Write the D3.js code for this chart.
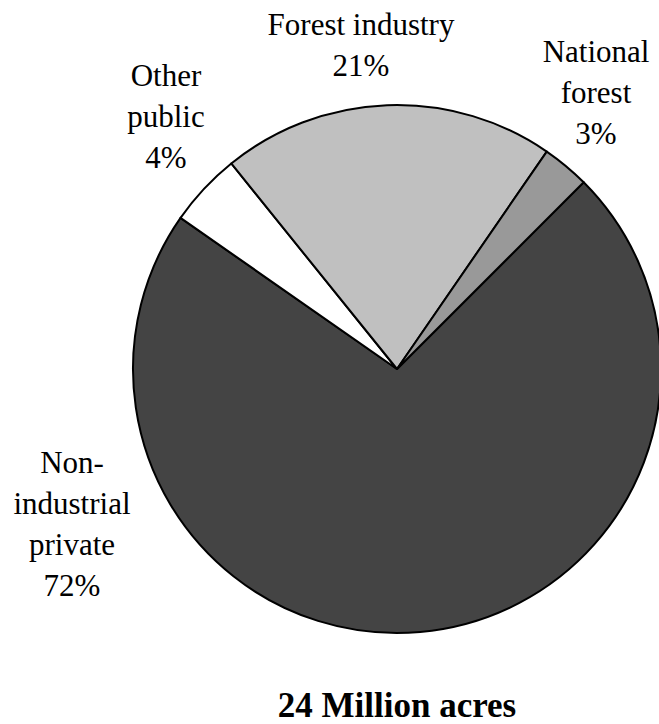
<!DOCTYPE html>
<html>
<head>
<meta charset="utf-8">
<script src="https://cdn.jsdelivr.net/npm/d3@7"></script>
<style>
  html, body { margin: 0; padding: 0; background: #ffffff; }
  svg { display: block; }
  text { font-family: "Liberation Serif", "Times New Roman", Times, serif; }
</style>
</head>
<body>
<svg id="chart" width="659" height="724"></svg>
<script>
// ---- data ----
const categories = ["Non-industrial private", "Other public", "Forest industry", "National forest"];
const shares = [72.2, 4.5, 20.4, 2.9];            // percent of area
const pctLabels = ["72%", "4%", "21%", "3%"];
const labelLines = [
  ["Non-", "industrial", "private"],
  ["Other", "public"],
  ["Forest industry"],
  ["National", "forest"]
];
const sliceColors = ["#444444", "#ffffff", "#c0c0c0", "#999999"];
const title = "24 Million acres";

// ---- layout ----
const W = 659, H = 724;
const cx = 397, cy = 369, R = 264;
const labelSize = 31, lineH = 41;
// label anchor (center x, first baseline y)
const labelPos = [
  { x: 72, y: 473 },
  { x: 166, y: 86 },
  { x: 361, y: 35 },
  { x: 596, y: 62 }
];

const svg = d3.select("#chart");

const pie = d3.pie()
  .value(d => d)
  .sort(null)
  .startAngle(Math.PI / 4)
  .endAngle(Math.PI / 4 + 2 * Math.PI);

const arc = d3.arc().innerRadius(0).outerRadius(R);

const g = svg.append("g").attr("transform", `translate(${cx},${cy})`);
g.selectAll("path")
  .data(pie(shares))
  .join("path")
  .attr("d", arc)
  .attr("fill", (d, i) => sliceColors[i])
  .attr("stroke", "#000")
  .attr("stroke-width", 2)
  .attr("stroke-linejoin", "round");

// labels
categories.forEach((c, i) => {
  const lines = labelLines[i].concat([pctLabels[i]]);
  const t = svg.append("text")
    .attr("text-anchor", "middle")
    .style("font-size", labelSize + "px")
    .attr("fill", "#000");
  lines.forEach((ln, j) => {
    t.append("tspan")
      .attr("x", labelPos[i].x)
      .attr("y", labelPos[i].y + j * lineH)
      .text(ln);
  });
});

svg.append("text")
  .attr("x", 397)
  .attr("y", 717)
  .attr("text-anchor", "middle")
  .style("font-weight", "bold")
  .style("font-size", "35px")
  .text(title);
</script>
</body>
</html>
